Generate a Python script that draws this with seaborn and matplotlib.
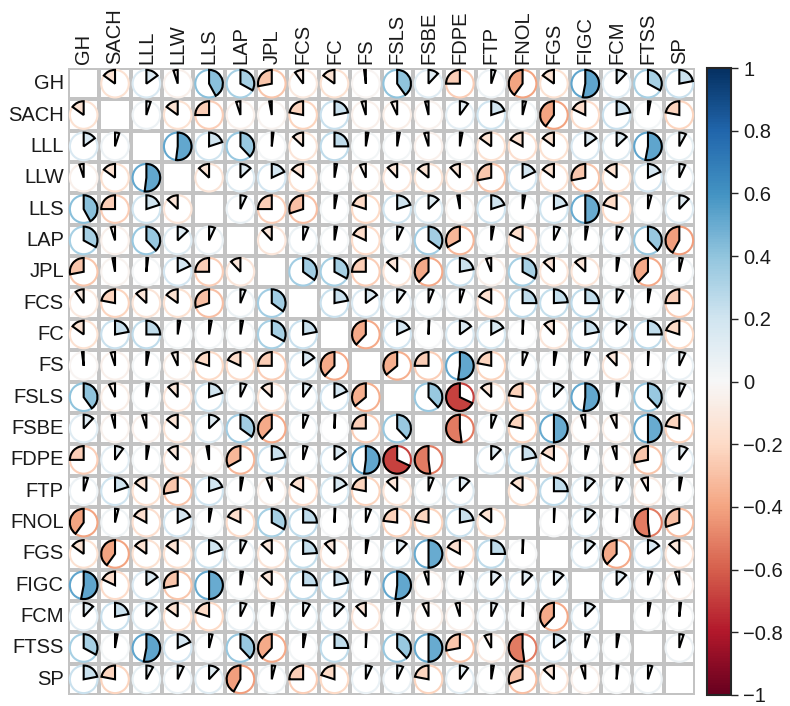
import numpy as np
import pandas as pd
import matplotlib
matplotlib.use('Agg')
import matplotlib.pyplot as plt
import seaborn as sns
from matplotlib.patches import Wedge, Circle
from matplotlib.colors import ListedColormap, Normalize
from matplotlib.cm import ScalarMappable

# variable names
labels = ['GH', 'SACH', 'LLL', 'LLW', 'LLS', 'LAP', 'JPL', 'FCS', 'FC', 'FS',
          'FSLS', 'FSBE', 'FDPE', 'FTP', 'FNOL', 'FGS', 'FIGC', 'FCM', 'FTSS', 'SP']

# upper triangle of the correlation matrix, one row per variable
r_gh = [-0.15, 0.15, -0.05, 0.42, 0.33, -0.28, -0.10, -0.15, -0.02, 0.40, 0.12, -0.25, 0.05, -0.40, -0.15, 0.53, 0.12, 0.33, 0.22]
r_sach = [0.05, -0.15, -0.25, -0.05, -0.03, -0.22, 0.22, -0.05, -0.07, -0.04, 0.10, 0.20, 0.04, -0.40, -0.18, 0.22, 0.03, -0.22]
r_lll = [0.52, 0.20, 0.38, 0.02, -0.13, 0.25, 0.03, 0.03, -0.05, 0.03, -0.15, -0.17, -0.15, 0.15, 0.13, 0.53, 0.08]
r_llw = [-0.13, 0.13, 0.18, -0.15, 0.03, -0.07, -0.12, -0.14, -0.12, -0.28, 0.18, -0.15, -0.28, -0.15, 0.18, 0.07]
r_lls = [0.07, -0.25, -0.30, 0.03, -0.20, 0.20, 0.13, -0.03, 0.20, 0.03, 0.20, 0.50, -0.20, 0.04, 0.12]
r_lap = [-0.12, 0.06, 0.03, -0.18, 0.07, 0.35, -0.33, 0.03, -0.18, 0.07, 0.03, 0.07, 0.38, -0.42]
r_jpl = [0.35, 0.33, -0.25, -0.13, -0.38, 0.22, -0.06, 0.33, -0.13, -0.13, 0.03, -0.38, 0.04]
r_fcs = [0.22, 0.15, 0.10, 0.06, 0.05, -0.17, 0.25, 0.24, 0.25, 0.08, 0.03, -0.25]
r_fc = [-0.38, 0.18, 0.01, 0.15, 0.17, 0.01, -0.12, 0.22, 0.12, 0.25, -0.20]
r_fs = [-0.36, -0.25, 0.52, -0.22, 0.06, 0.03, 0.05, -0.12, 0.01, 0.07]
r_fsls = [0.38, -0.68, -0.13, -0.23, 0.12, 0.52, 0.03, 0.38, 0.07]
r_fsbe = [-0.52, 0.06, -0.22, 0.50, -0.05, -0.07, 0.50, -0.22]
r_fdpe = [0.12, 0.22, -0.17, 0.04, -0.05, -0.28, 0.10]
r_ftp = [-0.15, 0.25, 0.12, 0.07, -0.08, 0.03]
r_fnol = [0.01, 0.12, 0.01, -0.52, -0.30]
r_fgs = [0.12, -0.38, 0.15, -0.13]
r_figc = [0.12, 0.05, -0.05]
r_fcm = [0.03, 0.02]
r_ftss = [0.05]

upper = [r_gh, r_sach, r_lll, r_llw, r_lls, r_lap, r_jpl, r_fcs, r_fc, r_fs,
         r_fsls, r_fsbe, r_fdpe, r_ftp, r_fnol, r_fgs, r_figc, r_fcm, r_ftss]

# build the full symmetric matrix
n = len(labels)
corr = np.ones((n, n))
for i, row in enumerate(upper):
    for k, v in enumerate(row):
        j = i + 1 + k
        corr[i, j] = v
        corr[j, i] = v
corr_df = pd.DataFrame(corr, index=labels, columns=labels)

sns.set_style('white')
plt.rcParams['font.family'] = ['Liberation Sans', 'DejaVu Sans']
plt.rcParams['text.color'] = '#1a1a1a'

fig = plt.figure(figsize=(7.9, 7.06), dpi=100)
ax = fig.add_axes([68 / 790, 11 / 706, 627 / 790, 627 / 706])

# white cells with grey grid
sns.heatmap(corr_df * 0, ax=ax, cmap=ListedColormap(['white']), cbar=False,
            linewidths=1.5, linecolor='#c3c3c3')

cmap = plt.get_cmap('RdBu')
norm = Normalize(-1, 1)
rad = 0.44

for i in range(n):
    for j in range(n):
        if i == j:
            continue
        v = corr[i, j]
        col = cmap(norm(v))
        cx, cy = j + 0.5, i + 0.5
        ax.add_patch(Circle((cx, cy), rad, fill=False, edgecolor=col, lw=1.5, zorder=3))
        # y axis is inverted: increasing angle runs clockwise on screen
        if v >= 0:
            t1, t2 = -90, -90 + v * 360
        else:
            t1, t2 = -90 + v * 360, -90
        ax.add_patch(Wedge((cx, cy), rad, t1, t2, facecolor=col, edgecolor='black',
                           lw=1.5, zorder=4))

ax.set_xlim(0, n)
ax.set_ylim(n, 0)
ax.set_aspect('equal')
ax.xaxis.tick_top()
ax.set_xticks(np.arange(n) + 0.5)
ax.set_xticklabels(labels, rotation=90, fontsize=14.5, color='#1a1a1a')
ax.set_yticks(np.arange(n) + 0.5)
ax.set_yticklabels(labels, rotation=0, fontsize=14.5, color='#1a1a1a')
ax.tick_params(length=0, pad=3)

# colour bar
cax = fig.add_axes([707 / 790, 11 / 706, 24 / 790, 627 / 706])
cb = fig.colorbar(ScalarMappable(norm=norm, cmap=cmap), cax=cax)
ticks = np.round(np.arange(-1, 1.01, 0.2), 1)
cb.set_ticks(ticks)
cb.set_ticklabels(['\u22121' if t == -1 else ('1' if t == 1 else ('0' if t == 0 else ('%g' % t).replace('-', '\u2212'))) for t in ticks])
cb.ax.tick_params(labelsize=14.5, length=5, width=1, direction='out', pad=4,
                  labelcolor='#1a1a1a')
cb.outline.set_linewidth(1.5)

fig.savefig('out.png', dpi=100)
